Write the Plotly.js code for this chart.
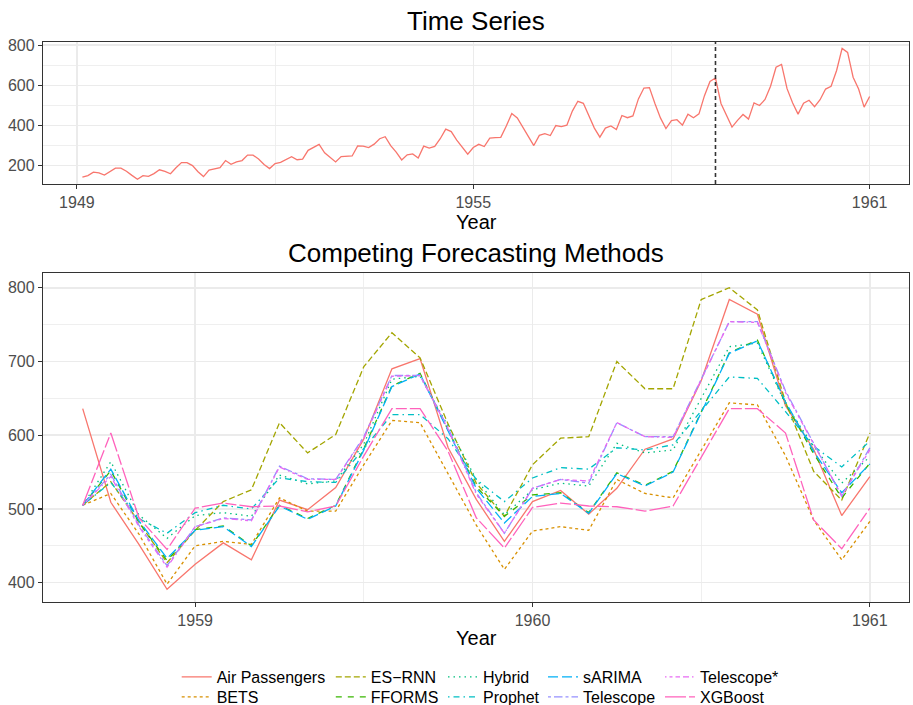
<!DOCTYPE html>
<html>
<head>
<meta charset="utf-8">
<script src="https://cdn.plot.ly/plotly-3.0.1.min.js"></script>
<style>
  html, body { margin: 0; padding: 0; background: #fff; }
  #chart { width: 913px; height: 705px; }
</style>
</head>
<body>
<div id="chart"></div>
<script>
// Monthly passenger counts, Jan 1949 .. Dec 1960 (plotted one month ahead, ggplot ts style)
const passengers = [
  141, 149, 166, 163, 152, 170, 186, 186, 171, 150, 131, 149,
  145, 159, 178, 170, 158, 188, 214, 214, 199, 168, 144, 176,
  183, 189, 224, 205, 217, 224, 251, 251, 232, 204, 184, 209,
  215, 227, 243, 228, 231, 275, 290, 305, 263, 241, 217, 244,
  247, 247, 297, 296, 289, 306, 333, 343, 299, 266, 227, 253,
  257, 237, 296, 286, 295, 333, 381, 369, 326, 289, 256, 289,
  305, 294, 336, 339, 340, 397, 459, 437, 393, 345, 299, 350,
  358, 349, 399, 394, 401, 471, 520, 510, 447, 386, 341, 386,
  397, 379, 449, 438, 447, 532, 586, 588, 509, 437, 384, 423,
  428, 401, 456, 438, 457, 548, 619, 636, 509, 452, 391, 425,
  454, 431, 512, 499, 529, 595, 690, 704, 583, 513, 456, 510,
  525, 493, 528, 581, 595, 674, 784, 764, 640, 581, 491, 544
];
const startYear = 1949;
const forecastOriginIndex = 115;   // Aug 1958: the window compared below starts here

// Forecasts over the evaluation window (29 monthly points)
const bets      = [505, 521, 466, 398, 450, 456, 452, 515, 497, 497, 560, 620, 617, 548, 478, 418, 470, 476, 471, 540, 521, 515, 580, 644, 641, 572, 485, 431, 483];
const esrnn     = [505, 537, 482, 427, 471, 510, 526, 617, 576, 601, 693, 739, 705, 615, 535, 490, 560, 596, 598, 700, 663, 663, 784, 800, 770, 645, 551, 512, 603];
const fforms    = [505, 552, 482, 430, 472, 477, 450, 505, 487, 505, 582, 667, 684, 606, 530, 490, 519, 522, 495, 549, 532, 551, 632, 712, 729, 643, 575, 515, 562];
const hybrid    = [505, 564, 492, 460, 491, 495, 490, 546, 534, 538, 588, 676, 680, 612, 540, 492, 526, 535, 531, 589, 576, 580, 650, 720, 725, 642, 585, 535, 571];
const prophet   = [505, 536, 487, 467, 495, 505, 500, 542, 537, 536, 582, 628, 628, 595, 540, 510, 542, 556, 554, 583, 580, 587, 633, 679, 677, 632, 585, 557, 592];
const sarima    = [505, 554, 484, 433, 471, 476, 449, 504, 486, 504, 580, 666, 683, 605, 528, 481, 517, 521, 494, 548, 531, 550, 630, 711, 728, 645, 578, 522, 561];
const telescope = [505, 547, 478, 423, 476, 488, 485, 558, 541, 540, 598, 681, 681, 610, 522, 467, 528, 540, 535, 617, 598, 598, 676, 754, 754, 660, 589, 517, 583];
const telescopeStar = [505, 544, 476, 421, 476, 487, 484, 557, 540, 540, 596, 680, 681, 608, 520, 467, 528, 540, 538, 617, 598, 597, 675, 754, 753, 658, 588, 518, 580];
const xgboost   = [505, 603, 488, 445, 501, 508, 503, 504, 496, 504, 572, 636, 636, 578, 488, 447, 502, 508, 504, 503, 497, 504, 570, 636, 636, 603, 485, 446, 501];

const methodNames = ['Air Passengers', 'BETS', 'ES\u2212RNN', 'FFORMS', 'Hybrid', 'Prophet', 'sARIMA', 'Telescope', 'Telescope*', 'XGBoost'];
const methodColors = ['#F8766D', '#D89000', '#A3A500', '#39B600', '#00BF7D', '#00BFC4', '#00B0F6', '#9590FF', '#E76BF3', '#FF62BC'];
const methodDash = ['solid', '3px,3px', '6px,3px', '6px,6px', '1.5px,4px', '1.5px,4px,6px,4px',
                    '10px,4px', '3px,3px,8.5px,3px', '1.5px,3px,3px,3px,4.5px,3px,6px,3px', '21px,3px,11px,3px'];

// time in fractional years (ts convention: month m of year y at y + m/12)
const tsTime = i => startYear + (i + 1) / 12;
const allTimes = passengers.map((_, i) => tsTime(i));
const windowValues = passengers.slice(forecastOriginIndex);
const windowTimes = allTimes.slice(forecastOriginIndex);
const originTime = tsTime(forecastOriginIndex);

const series = [windowValues, bets, esrnn, fforms, hybrid, prophet, sarima, telescope, telescopeStar, xgboost];
// one small legend per entry, laid out as a 5 x 2 grid (column-major)
const legendId = i => (i === 0 ? 'legend' : 'legend' + (i + 1));

const traces = [{
  x: allTimes, y: passengers, type: 'scatter', mode: 'lines',
  line: { color: methodColors[0], width: 1.3 }, showlegend: false,
  xaxis: 'x', yaxis: 'y', hoverinfo: 'skip'
}];
series.forEach((vals, i) => {
  traces.push({
    x: windowTimes, y: vals, type: 'scatter', mode: 'lines', name: methodNames[i],
    line: { color: methodColors[i], width: 1.3, dash: methodDash[i] },
    xaxis: 'x2', yaxis: 'y2', legend: legendId(i)
  });
});

const W = 913, H = 705;
const px = v => v / W;
const py = v => 1 - v / H;
const FONT = 'Liberation Sans, Arial, Helvetica, sans-serif';
const gridMajor = '#EBEBEB';
const border = '#333333';

const axisBase = {
  showline: true, mirror: true, linecolor: border, linewidth: 1.2,
  ticks: 'outside', ticklen: 4, tickcolor: border, tickwidth: 1.1,
  showgrid: true, gridcolor: gridMajor, gridwidth: 1.5,
  zeroline: false, tickfont: { size: 16, color: '#4D4D4D', family: FONT },
  tickmode: 'array', fixedrange: true
};

const legendColumnsText = [216.7, 370.8, 483, 583, 700];
const legendRowsY = [677, 697];
const legendAt = (i) => ({
  x: px(legendColumnsText[Math.floor(i / 2)] - 40), xanchor: 'left',
  y: py(legendRowsY[i % 2]), yanchor: 'middle',
  orientation: 'v', bgcolor: 'rgba(0,0,0,0)', borderwidth: 0,
  font: { size: 16, color: '#000', family: FONT }, itemwidth: 30,
  tracegroupgap: 0, traceorder: 'normal', itemclick: false, itemdoubleclick: false
});

const textNote = (text, xPix, yPix, size) => ({
  text: text, xref: 'paper', yref: 'paper', x: px(xPix), y: py(yPix),
  xanchor: 'center', yanchor: 'middle', showarrow: false,
  font: { size: size, color: '#000', family: FONT }
});

const layout = {
  width: W, height: H,
  margin: { l: 0, r: 0, t: 0, b: 0, autoexpand: false },
  paper_bgcolor: '#fff', plot_bgcolor: '#fff',
  font: { family: FONT },
  xaxis: Object.assign({}, axisBase, {
    domain: [px(43), px(909)], anchor: 'y',
    range: [1948.487, 1961.596],
    tickvals: [1949, 1955, 1961], ticktext: ['1949', '1955', '1961'],
    minor: { tickvals: [1952, 1958], showgrid: true, gridcolor: gridMajor, gridwidth: 0.8, ticks: '' }
  }),
  yaxis: Object.assign({}, axisBase, {
    domain: [py(184), py(42)], anchor: 'x',
    range: [107, 816],
    tickvals: [200, 400, 600, 800], ticktext: ['200', '400', '600', '800'],
    minor: { tickvals: [300, 500, 700], showgrid: true, gridcolor: gridMajor, gridwidth: 0.8, ticks: '' }
  }),
  xaxis2: Object.assign({}, axisBase, {
    domain: [px(43), px(909)], anchor: 'y2',
    range: [1958.549, 1961.116],
    tickvals: [1959, 1960, 1961], ticktext: ['1959', '1960', '1961'],
    minor: { tickvals: [1959.5, 1960.5], showgrid: true, gridcolor: gridMajor, gridwidth: 0.8, ticks: '' }
  }),
  yaxis2: Object.assign({}, axisBase, {
    domain: [py(602), py(273)], anchor: 'x2',
    range: [373.8, 820],
    tickvals: [400, 500, 600, 700, 800], ticktext: ['400', '500', '600', '700', '800'],
    minor: { tickvals: [450, 550, 650, 750], showgrid: true, gridcolor: gridMajor, gridwidth: 0.8, ticks: '' }
  }),
  shapes: [{
    type: 'line', xref: 'x', yref: 'y domain', x0: originTime, x1: originTime, y0: 0, y1: 1,
    line: { color: '#333333', width: 1.6, dash: '4px,3px' }
  }],
  annotations: [
    textNote('Time Series', 476, 21, 26),
    textNote('Year', 476, 222, 20),
    textNote('Competing Forecasting Methods', 476, 253, 26),
    textNote('Year', 476, 638, 20)
  ],
  hovermode: false
};
series.forEach((_, i) => { layout[legendId(i)] = legendAt(i); });

Plotly.newPlot('chart', traces, layout, { displayModeBar: false, staticPlot: true });
</script>
</body>
</html>
